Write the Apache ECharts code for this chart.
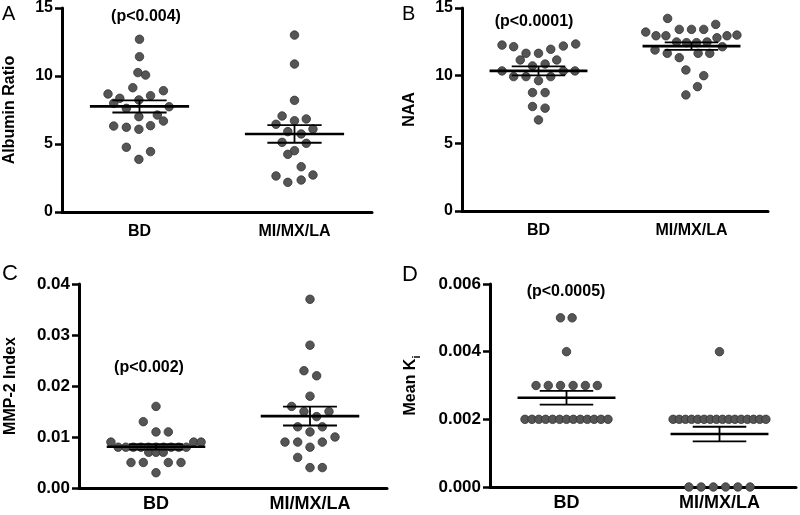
<!DOCTYPE html>
<html>
<head>
<meta charset="utf-8">
<script src="https://cdn.jsdelivr.net/npm/echarts@6/dist/echarts.min.js"></script>
<style>
  html, body { margin: 0; padding: 0; background: #fff; }
  #main { width: 800px; height: 515px; }
</style>
</head>
<body>
<div id="main"></div>
<script>
// groups on the x axis
const groups = ['BD', 'MI/MX/LA'];

// A - Albumin Ratio
const aBdVal = [12.70, 11.42, 10.25, 10.07, 9.14, 8.68, 8.92, 8.55, 8.36, 8.24, 7.99, 7.62, 7.74, 7.13, 7.01, 6.69, 6.32, 6.23, 6.08, 6.35, 4.76, 4.44, 3.87];
const aBdOff = [0, 0, -0.13, 0.49, -0.54, -2.54, 1.93, 0.89, -1.59, -0.05, -2.08, -1.06, 2.39, 1.44, -0.05, 1.93, -2.08, -1.06, -0.05, 0.89, -1.06, 0.89, -0.05];
const aMiVal = [13.01, 10.88, 8.21, 7.06, 6.71, 6.84, 6.45, 6.10, 5.91, 5.74, 5.12, 5.05, 4.51, 4.24, 3.33, 2.65, 2.72, 2.18, 2.35];
const aMiOff = [0, 0, 0, -1.0, 0, 0.95, -1.49, 1.49, -0.54, 0.54, -1.0, 0.95, 0, -0.54, 0.54, -1.49, 1.49, -0.54, 0.54];

// B - NAA
const bBdVal = [12.26, 12.14, 12.19, 12.34, 11.65, 11.65, 11.95, 11.16, 11.16, 10.72, 10.86, 10.35, 10.35, 10.35, 9.93, 9.93, 9.63, 9.93, 8.75, 8.75, 7.72, 7.60, 6.73];
const bBdOff = [-2.98, -2.03, 2.03, 3.04, -1.02, 0, 1.0, -1.49, 1.49, -0.49, 0.54, -2.98, 2.98, 2.03, -2.03, -1.02, 0, 1.0, -0.49, 0.54, -0.49, 0.54, 0];
const bMiVal = [14.23, 13.22, 12.95, 12.95, 13.42, 13.42, 13.42, 13.79, 12.80, 12.95, 13.00, 12.49, 12.44, 12.44, 12.49, 12.14, 11.90, 11.65, 11.33, 11.65, 11.65, 10.42, 10.00, 9.19, 8.58];
const bMiOff = [-1.95, -3.74, -2.9, -2.09, -1.0, 0, 1.0, 1.98, 2.08, 2.9, 3.71, -1.22, -0.41, 0.41, 1.27, 2.52, -2.98, -1.98, -1.0, 0.54, 1.49, -0.46, 1.0, 0.49, -0.46];

// C - MMP-2 Index
const cBdVal = [0.016, 0.013, 0.011, 0.011, 0.009, 0.009, 0.009,
  0.008, 0.008, 0.008, 0.008, 0.008, 0.008, 0.008, 0.008, 0.008, 0.008,
  0.007, 0.007, 0.007, 0.005, 0.005, 0.005, 0.005, 0.003];
const cBdOff = [0, -1.03, 0, 1.0, -3.66, 3.06, 3.66,
  -3.07, -2.45, -1.84, -1.22, -0.61, 0, 0.61, 1.23, 1.84, 2.46,
  -0.59, 0, 0.59, -2.03, -1.03, 1.0, 2.03, 0];
const cMiVal = [0.037, 0.028, 0.023, 0.022, 0.018, 0.016, 0.015, 0.015, 0.014, 0.012, 0.012, 0.011, 0.010, 0.009, 0.009, 0.009, 0.008, 0.006, 0.004, 0.004];
const cMiOff = [0, 0, -0.49, 0.54, 0, -1.49, -0.49, 1.54, 0.54, -1.0, 1.0, 0, 2.03, -2.03, -1.0, 1.0, 0, -1.0, 0, 1.0];

// D - Mean Ki
const dBdVal = [0.005, 0.005, 0.004, 0.003, 0.003, 0.003, 0.003, 0.003, 0.003,
  0.002, 0.002, 0.002, 0.002, 0.002, 0.002, 0.002, 0.002, 0.002, 0.002, 0.002, 0.002, 0.002];
const dBdOff = [-0.49, 0.46, 0, -2.49, -1.49, -0.49, 0.54, 1.54, 2.52,
  -3.39, -2.82, -2.26, -1.70, -1.13, -0.56, 0, 0.56, 1.13, 1.70, 2.26, 2.82, 3.39];
const dMiVal = [0.004,
  0.002, 0.002, 0.002, 0.002, 0.002, 0.002, 0.002, 0.002, 0.002, 0.002, 0.002, 0.002, 0.002, 0.002, 0.002, 0.002,
  0, 0, 0, 0, 0, 0];
const dMiOff = [0,
  -3.79, -3.29, -2.78, -2.28, -1.77, -1.26, -0.76, -0.25, 0.25, 0.76, 1.26, 1.77, 2.28, 2.78, 3.29, 3.79,
  -2.5, -1.5, -0.5, 0.5, 1.5, 2.5];

// y axis ticks
const aTicks = { min: 0, max: 15, interval: 5 };
const bTicks = { min: 0, max: 15, interval: 5 };
const cTicks = { min: 0, max: 0.04, interval: 0.01 };
const dTicks = { min: 0, max: 0.006, interval: 0.002 };

// --- layout / style (not data) ---
const FONT = '"Liberation Sans", Arial, Helvetica, sans-serif';
const slot = 0.08;       // horizontal dot spacing in x units
const meanHalf = 0.32;   // half width of mean line
const semHalf = 0.175;   // half width of SEM lines
const centers = [0.5, 1.5];

const grids = [
  { left: 62, right: 428, top: 8, bottom: 303 },
  { left: 462, right: 32, top: 8, bottom: 304 },
  { left: 79, right: 413, top: 284, bottom: 27 },
  { left: 490, right: 4, top: 284, bottom: 28 }
];

function pts(vals, offs, c) {
  return vals.map((v, i) => [c + offs[i] * slot, v]);
}

// mean and standard error
function stats(vals, c) {
  const n = vals.length;
  const mean = vals.reduce((s, v) => s + v, 0) / n;
  const sd = Math.sqrt(vals.reduce((s, v) => s + (v - mean) * (v - mean), 0) / (n - 1));
  return [c, mean, sd / Math.sqrt(n)];
}

function renderBars(params, api) {
  const c = api.value(0), m = api.value(1), s = api.value(2);
  const p = (x, y) => api.coord([x, y]);
  const seg = (a, b, w) => ({
    type: 'line',
    shape: { x1: a[0], y1: a[1], x2: b[0], y2: b[1] },
    style: { stroke: '#000', lineWidth: w }
  });
  return {
    type: 'group',
    children: [
      seg(p(c - meanHalf, m), p(c + meanHalf, m), 2.6),
      seg(p(c - semHalf, m + s), p(c + semHalf, m + s), 1.8),
      seg(p(c - semHalf, m - s), p(c + semHalf, m - s), 1.8),
      seg(p(c, m - s), p(c, m + s), 1.8)
    ]
  };
}

const panels = [
  { name: 'Albumin Ratio', gap: 44, ticks: aTicks, dec: 0, fs: 16, cm: 12, sets: [[aBdVal, aBdOff], [aMiVal, aMiOff]] },
  { name: 'NAA', gap: 44, ticks: bTicks, dec: 0, fs: 16, cm: 12, sets: [[bBdVal, bBdOff], [bMiVal, bMiOff]] },
  { name: 'MMP-2 Index', gap: 60, ticks: cTicks, dec: 2, fs: 17, cm: 7, sets: [[cBdVal, cBdOff], [cMiVal, cMiOff]] },
  { name: '{m|Mean K}{s|i}', gap: 68, ticks: dTicks, dec: 3, fs: 17, cm: 7, sets: [[dBdVal, dBdOff], [dMiVal, dMiOff]] }
];

const xAxis = [], yAxis = [], series = [];

panels.forEach((pn, i) => {
  // visible category axis (labels + ticks)
  xAxis.push({
    type: 'category', gridIndex: i, data: groups, boundaryGap: true,
    axisLine: { lineStyle: { color: '#000', width: 3 } },
    axisTick: { alignWithLabel: true, length: 6, lineStyle: { color: '#000', width: 2.5 } },
    axisLabel: { color: '#000', fontWeight: 'bold', fontSize: pn.fs + (i > 1 ? 1 : 0), fontFamily: FONT, margin: pn.cm }
  });
  // hidden value axis for placing dots
  xAxis.push({ type: 'value', gridIndex: i, min: 0, max: 2, show: false });

  yAxis.push({
    type: 'value', gridIndex: i,
    min: pn.ticks.min, max: pn.ticks.max, interval: pn.ticks.interval,
    name: pn.name, nameLocation: 'middle', nameGap: pn.gap, nameRotate: 90,
    nameTextStyle: {
      color: '#000', fontWeight: 'bold', fontSize: 16, fontFamily: FONT,
      rich: {
        m: { color: '#000', fontWeight: 'bold', fontSize: 16, fontFamily: FONT, lineHeight: 22, verticalAlign: 'middle' },
        s: { color: '#000', fontWeight: 'bold', fontSize: 11, fontFamily: FONT, lineHeight: 22, verticalAlign: 'bottom' }
      }
    },
    splitLine: { show: false },
    axisLine: { show: true, lineStyle: { color: '#000', width: 3 } },
    axisTick: { show: true, length: 7, lineStyle: { color: '#000', width: 2.5 } },
    axisLabel: {
      color: '#000', fontWeight: 'bold', fontSize: pn.fs, fontFamily: FONT, margin: 9,
      formatter: v => v.toFixed(pn.dec)
    }
  });

  pn.sets.forEach((set, g) => {
    series.push({
      type: 'scatter', xAxisIndex: i * 2 + 1, yAxisIndex: i,
      data: pts(set[0], set[1], centers[g]),
      symbolSize: 8.5, clip: false,
      itemStyle: { color: '#555', borderColor: '#333', borderWidth: 0.8, opacity: 1 },
      z: 3
    });
    series.push({
      type: 'custom', xAxisIndex: i * 2 + 1, yAxisIndex: i,
      data: [stats(set[0], centers[g])],
      dimensions: ['x', 'y', 'sem'],
      encode: { x: 0, y: 1 },
      renderItem: renderBars, clip: false, z: 4
    });
  });
});

const letters = [['A', 2, 14, 20], ['B', 402, 14, 20], ['C', 2, 274, 22], ['D', 402, 275, 22]];
const pTexts = [['(p<0.004)', 146, 17], ['(p<0.0001)', 534, 22], ['(p<0.002)', 149, 368], ['(p<0.0005)', 566, 292]];

const graphic = [];
letters.forEach(l => graphic.push({
  type: 'text', x: l[1], y: l[2],
  style: { text: l[0], fill: '#000', font: 'normal ' + l[3] + 'px ' + FONT, textAlign: 'left', textVerticalAlign: 'middle' }
}));
pTexts.forEach(t => graphic.push({
  type: 'text', x: t[1], y: t[2],
  style: { text: t[0], fill: '#000', font: 'bold 16px ' + FONT, textAlign: 'center', textVerticalAlign: 'middle' }
}));

const chart = echarts.init(document.getElementById('main'));
chart.setOption({
  animation: false,
  backgroundColor: '#fff',
  grid: grids,
  xAxis: xAxis,
  yAxis: yAxis,
  series: series,
  graphic: graphic
});
</script>
</body>
</html>
